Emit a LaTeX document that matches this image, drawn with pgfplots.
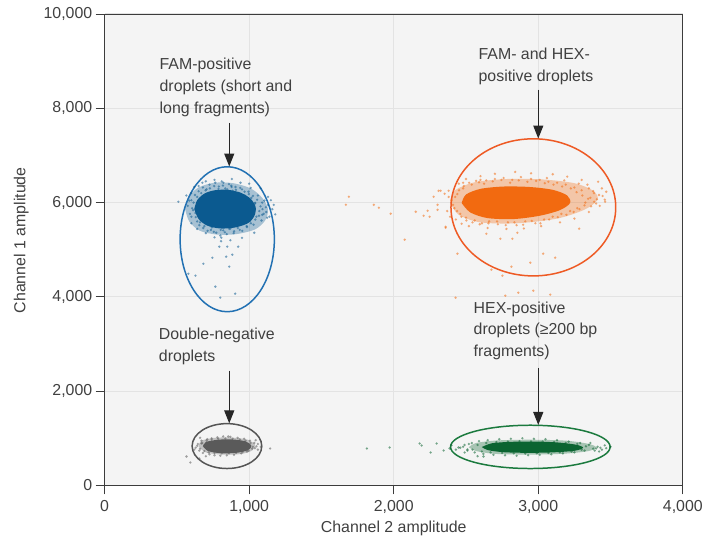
\documentclass[border=0pt]{standalone}
\usepackage{fontspec}
\setmainfont{Liberation Sans}
\usepackage{pgfplots}
\pgfplotsset{compat=1.18}
\usetikzlibrary{arrows.meta}
\definecolor{bgGray}{HTML}{F4F4F4}
\definecolor{gridGray}{HTML}{E3E3E3}
\definecolor{axisGray}{HTML}{3C3C3C}
\definecolor{textGray}{HTML}{404040}
\definecolor{famBlue}{HTML}{0B5A90}
\definecolor{famLine}{HTML}{2271B3}
\definecolor{dualOrange}{HTML}{F26A10}
\definecolor{dualLine}{HTML}{EE5A24}
\definecolor{negGray}{HTML}{5A5A5A}
\definecolor{negLine}{HTML}{555555}
\definecolor{hexGreen}{HTML}{0B6431}
\definecolor{hexLine}{HTML}{1B7A3E}
\newcommand\chartfont{\fontsize{16}{21.7}\selectfont}
\pgfplotsset{
  dropletdots/.style={only marks,color=#1,mark=*,mark size=1.3bp,mark options={draw opacity=0,fill opacity=0.55}},
  dropletcore/.style={draw=none,fill=#1,smooth},
}
\begin{document}
\begin{tikzpicture}
\begin{axis}[
  scale only axis,width=580bp,height=473bp,
  xmin=0,xmax=4000,ymin=0,ymax=10000,
  xtick={0,1000,2000,3000,4000},ytick={0,2000,4000,6000,8000,10000},
  scaled ticks=false,
  tick pos=left,tick align=outside,major tick length=9bp,
  axis background/.style={fill=bgGray},
  grid=major,major grid style={gridGray,line width=1.2bp},
  axis line style={axisGray,line width=0.9bp},
  every tick/.style={axisGray,line width=0.9bp},
  /pgf/number format/1000 sep={,},
  /pgf/number format/assume math mode=true,
  ticklabel style={font=\chartfont,text=textGray},
  xticklabel style={yshift=-2bp},
  label style={font=\chartfont,text=textGray},
  xlabel={Channel 2 amplitude},ylabel={Channel 1 amplitude},
  xlabel style={at={(axis description cs:0.5,-0.074)},anchor=north,inner sep=0pt},
  ylabel style={at={(axis description cs:-0.131,0.52)},anchor=south,inner sep=0pt},
  clip=false,
]
\coordinate (bl) at (rel axis cs:0,0);
\coordinate (tr) at (rel axis cs:1,1);

% FAM-positive cluster
\addplot[dropletcore=famBlue,fill opacity=0.33] coordinates {(555,5880)(580,6120)(650,6320)(760,6420)(890,6410)(1010,6300)(1090,6100)(1130,5860)(1110,5620)(1040,5430)(910,5330)(780,5320)(660,5400)(585,5600)(555,5880)};
\addplot[dropletcore=famBlue] coordinates {(620,5860)(640,6050)(690,6190)(760,6260)(850,6270)(940,6210)(1010,6080)(1045,5900)(1035,5710)(990,5560)(900,5470)(800,5450)(710,5510)(650,5650)(620,5860)};
\addplot[dropletdots=famBlue] coordinates {
(575,5930)(590,5760)(600,6050)(612,5840)(625,6160)(630,5690)(645,5990)(650,6240)(660,5580)(672,6100)
(680,6320)(690,5500)(700,5900)(705,6280)(715,5620)(725,6380)(735,5420)(745,6200)(755,5380)(765,6420)
(775,5520)(790,6340)(800,5300)(810,6450)(820,5410)(835,6300)(845,5330)(860,6390)(870,5450)(885,6250)
(895,5390)(905,6330)(915,5500)(925,6200)(935,5420)(950,6280)(960,5560)(970,6150)(985,5480)(995,6230)
(1005,5610)(1015,6100)(1030,5530)(1040,5980)(1050,5700)(1060,6150)(1070,5820)(1085,5620)(1090,6000)(1100,5760)
(1115,5900)(1130,6120)(1140,5700)(1160,5860)(1180,5750)(1035,5360)(950,5250)(870,5200)(805,5180)(760,5260)
(700,5350)(640,5440)(600,5560)(565,6150)(620,6330)(700,6450)(880,6500)(1000,6400)(1080,6300)
(600,5700)(615,6000)(628,5780)(640,6120)(655,5520)(668,6200)(682,5460)(698,6260)(712,5400)(728,6300)
(742,5470)(758,6350)(772,5360)(788,6290)(803,5420)(818,6360)(832,5370)(848,6280)(862,5440)(878,6330)
(893,5350)(908,6270)(922,5460)(938,6310)(952,5400)(968,6230)(982,5500)(997,6180)(1012,5560)(1026,6140)
(1042,5640)(1055,6060)(1068,5720)(1078,5920)(1092,5860)(1105,6040)(1118,5800)(1130,5950)(605,5880)(585,6040)
(598,6200)(1150,6050)(1170,5950)(1010,6310)(940,6420)(760,6480)(650,6350)(640,5600)
(510,6017)(745,4830)(683,4703)(862,4640)(579,4490)(628,4450)(766,4216)(903,4068)(800,3983)(793,5064)
(848,5064)(841,4852)(883,4894)(807,5254)(924,5064)(1124,5678)(1090,5741)(1041,5996)(876,6356)(676,6420)(821,6420)};
\draw[famLine,line width=1.5bp] (axis cs:848,5222) ellipse [x radius=326,y radius=1537];

% FAM- and HEX-positive cluster
\addplot[dropletcore=dualOrange,fill opacity=0.33] coordinates {(2390,6000)(2420,6250)(2560,6430)(2790,6500)(3030,6490)(3250,6410)(3380,6250)(3410,6060)(3320,5850)(3130,5660)(2850,5560)(2600,5580)(2450,5740)(2390,6000)};
\addplot[dropletcore=dualOrange] coordinates {(2470,5990)(2500,6170)(2600,6290)(2760,6340)(2940,6330)(3100,6270)(3200,6150)(3220,5990)(3150,5840)(3010,5720)(2830,5650)(2650,5670)(2530,5790)(2470,5990)};
\addplot[dropletdots=dualOrange] coordinates {
(2400,6050)(2420,5880)(2440,6180)(2460,5760)(2480,6300)(2500,5680)(2520,6080)(2540,6380)(2560,5620)(2590,6430)
(2610,5560)(2640,6470)(2660,5600)(2700,6500)(2720,5540)(2760,6520)(2790,5580)(2820,6480)(2850,5520)(2880,6540)
(2910,5600)(2950,6500)(2980,5560)(3010,6480)(3040,5640)(3070,6440)(3100,5700)(3130,6420)(3160,5760)(3190,6380)
(3220,5820)(3250,6320)(3270,5880)(3300,6260)(3320,5940)(3340,6380)(3360,6100)(3380,6240)(3400,5980)(3420,6160)
(3440,6300)(3460,6060)(3470,6229)(3414,6441)(3386,6017)(3462,6017)(3300,6480)(3200,6550)(3100,6600)(2950,6620)
(2840,6650)(2700,6610)(2600,6560)(2500,6500)(2450,6400)(2380,6250)(2370,5820)(2430,5640)(2520,5500)(2650,5460)
(2780,5440)(2900,5450)(3020,5500)(3150,5580)(3250,5660)(3350,5800)
(2410,5950)(2425,6120)(2438,5820)(2452,6260)(2468,5700)(2485,6350)(2503,5620)(2522,6420)(2545,5580)(2570,6460)
(2595,5540)(2625,6400)(2655,5560)(2685,6450)(2715,5600)(2745,6480)(2775,5520)(2805,6420)(2835,5580)(2865,6470)
(2895,5530)(2925,6440)(2955,5610)(2985,6460)(3015,5560)(3045,6410)(3075,5640)(3105,6380)(3135,5690)(3165,6340)
(3195,5740)(3225,6300)(3245,5800)(3265,6220)(3285,5860)(3305,6150)(3325,6000)(3345,6080)(3365,5920)(3385,6200)
(3405,6070)(3425,5930)(3445,6140)(3350,6300)(3280,6400)(3180,6470)(3060,6520)(2600,6480)(2480,6420)(2380,6120)
(2390,5700)(2470,5550)
(1690,6123)(1669,5953)(1862,5953)(1897,5890)(1979,5763)(2076,5212)(2152,5805)(2207,5720)(2234,5826)(2248,5699)
(2276,6123)(2310,6250)(2352,6186)(2303,5953)(2303,5847)(2359,5487)(2441,4915)(2428,3983)(2738,5233)(2821,5233)
(2641,5339)(2855,5360)(2945,4725)(3034,4915)(3117,4830)(2814,4640)(2752,4449)(2676,4576)(3283,5445)(2772,4025)
(2862,4089)(2966,4131)(3083,4047)(2324,6250)(2359,5466)};
\draw[dualLine,line width=1.5bp] (axis cs:2966,5898) ellipse [x radius=570,y radius=1454];

% double-negative cluster
\addplot[dropletcore=negGray,fill opacity=0.33] coordinates {(650,830)(670,950)(760,1010)(880,1015)(990,970)(1040,860)(1020,740)(940,665)(810,655)(700,700)(650,830)};
\addplot[dropletcore=negGray] coordinates {(680,830)(700,920)(785,970)(885,975)(975,935)(1015,840)(990,745)(905,690)(800,685)(715,730)(680,830)};
\addplot[dropletdots=negGray] coordinates {
(630,800)(645,880)(655,740)(670,950)(680,690)(695,860)(710,980)(725,660)(740,1000)(760,640)
(780,1020)(800,630)(820,1040)(845,640)(870,1030)(895,650)(920,1010)(945,680)(965,990)(985,720)
(1005,950)(1020,780)(1035,900)(1050,830)(1060,760)(1045,960)(700,620)(660,1010)
(640,840)(660,780)(675,900)(690,730)(705,950)(720,700)(740,970)(760,690)(785,990)(810,680)
(835,995)(860,680)(885,990)(910,690)(935,975)(955,710)(975,950)(995,740)(1010,900)(1025,820)
(1040,790)(1060,880)(620,760)(1080,820)
(566,614)(593,487)(655,572)(1145,784)(855,1038)(669,890)};
\draw[negLine,line width=1.5bp] (axis cs:846,835) ellipse [x radius=241,y radius=476];

% HEX-positive cluster
\addplot[dropletcore=hexGreen,fill opacity=0.33] coordinates {(2520,810)(2570,900)(2720,955)(2950,970)(3190,950)(3350,880)(3400,805)(3340,725)(3160,670)(2920,655)(2700,670)(2570,730)(2520,810)};
\addplot[dropletcore=hexGreen] coordinates {(2610,815)(2680,895)(2810,925)(2960,930)(3120,915)(3260,865)(3310,800)(3250,735)(3090,700)(2920,692)(2760,705)(2650,750)(2610,815)};
\addplot[dropletdots=hexGreen] coordinates {
(2460,800)(2490,860)(2510,740)(2540,900)(2560,700)(2590,940)(2620,670)(2650,960)(2690,650)(2730,980)
(2770,640)(2810,990)(2850,630)(2890,1000)(2930,640)(2970,990)(3010,650)(3050,980)(3090,660)(3130,960)
(3170,680)(3210,930)(3250,700)(3290,900)(3320,740)(3350,860)(3380,780)(3410,820)(3440,760)(3460,850)
(2480,820)(2520,880)(2545,760)(2580,860)(2610,720)(2640,900)(2670,700)(2710,920)(2750,690)(2790,930)
(2830,680)(2870,940)(2910,675)(2950,935)(2990,680)(3030,930)(3070,690)(3110,920)(3150,700)(3190,900)
(3230,720)(3270,880)(3300,760)(3330,830)(3360,900)(3390,740)(3430,800)(3470,790)(3500,820)(2430,760)(2400,850)
(3400,784)(3421,720)
(1814,784)(1972,805)(2179,890)(2193,847)(2255,699)(2297,890)(2345,742)(2386,784)(2448,805)(2490,699)
(2510,763)(2621,614)(2580,620)};
\draw[hexLine,line width=1.5bp] (axis cs:2945,818) ellipse [x radius=552,y radius=459];

% annotations
\begin{scope}[every node/.style={anchor=north west,align=left,inner sep=0pt,font=\chartfont,text=textGray}]
\node at (axis cs:379,9060) {FAM-positive\\droplets (short and\\long fragments)};
\node at (axis cs:2586,9274) {FAM- and HEX-\\positive droplets};
\node at (axis cs:374,3334) {Double-negative\\droplets};
\node at (axis cs:2552,3900) {HEX-positive\\droplets (≥200 bp\\fragments)};
\end{scope}
\begin{scope}[-{Triangle[length=13bp,width=10bp]},line width=1.2bp,color=black!85]
\draw (axis cs:862,7689) -- (axis cs:862,6765);
\draw (axis cs:3000,8393) -- (axis cs:3000,7358);
\draw (axis cs:862,2437) -- (axis cs:862,1317);
\draw (axis cs:3000,2495) -- (axis cs:3000,1283);
\end{scope}
\end{axis}
\path ([xshift=-105bp,yshift=-56bp]bl) rectangle ([xshift=21bp,yshift=14bp]tr);
\end{tikzpicture}
\end{document}
